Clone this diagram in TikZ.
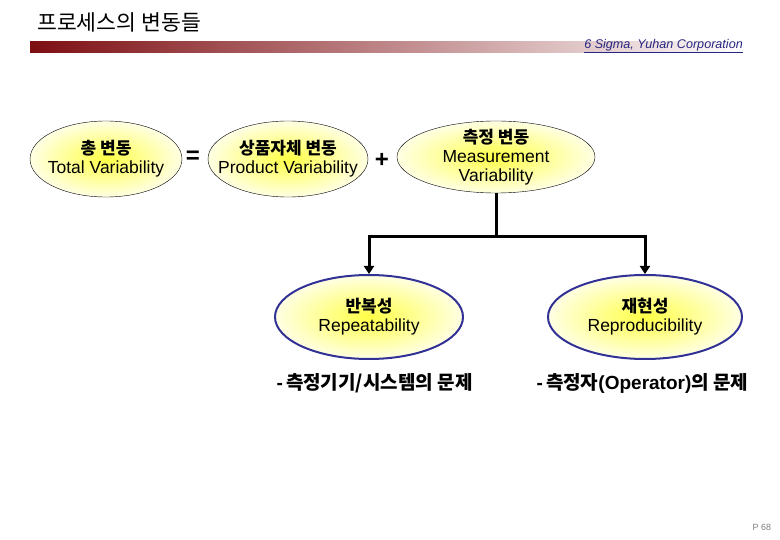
\documentclass[tikz,border=0pt]{standalone}
\usepackage{fontspec}
\setmainfont{Liberation Sans}
\newfontfamily\kr{Noto Sans CJK KR}
\newcommand\hangul{\kr\bfseries\fontsize{17}{19}\selectfont}
\usetikzlibrary{positioning,shapes.geometric,arrows.meta}
\definecolor{barred}{RGB}{125,14,18}
\definecolor{corpblue}{RGB}{38,38,130}
\definecolor{ringblue}{RGB}{50,50,150}
\definecolor{glowyellow}{RGB}{255,255,70}
\definecolor{paleyellow}{RGB}{255,255,228}
\tikzset{
  blob/.style={ellipse, draw=black, thin, inner color=glowyellow, outer color=paleyellow, inner sep=0pt},
  part/.style={blob, draw=ringblue, line width=2pt},
  blobtext/.style={align=center, inner sep=0pt, font=\fontsize{17.5}{19}\selectfont},
  trunk/.style={line width=3pt},
  branch/.style={trunk, {Triangle[width=10pt,length=8pt]}-{Triangle[width=10pt,length=8pt]}},
  op/.style={font=\fontsize{24}{24}\selectfont\bfseries},
  issue/.style={anchor=west, font=\fontsize{19}{20}\selectfont\bfseries}
}
\begin{document}
\begin{tikzpicture}[x=1pt,y=-1pt]
    \useasboundingbox (0,0) rectangle (780,540);

    % header
    \node[anchor=west, inner sep=0pt, font=\kr\fontsize{21.6}{22}\selectfont] (title) at (37,22) {프로세스의 변동들};
    \shade[left color=barred, right color=white] (30,42) rectangle (745,53);
    \node[anchor=east, inner sep=0pt, text=corpblue, font=\fontsize{12.6}{13}\selectfont\itshape] (corp) at (743,46)
      {\underline{6 Sigma, Yuhan Corporation}};

    % top row
    \node[blob, minimum width=152, minimum height=76] (total) at (106,159) {};
    \node[blobtext] (totaltext) at (total) {{\hangul 총 변동}\\Total Variability};
    \node[op] (eq) at (193,157) {=};
    \node[blob, minimum width=160, minimum height=76] (product) at (288,159) {};
    \node[blobtext] (producttext) at (product) {{\hangul 상품자체 변동}\\Product Variability};
    \node[op] (plus) at (382,160) {+};
    \node[blob, minimum width=198, minimum height=72] (meas) at (496,157) {};
    \node[blobtext] (meastext) at (meas) {{\hangul 측정 변동}\\Measurement\\Variability};

    % bottom row
    \node[part, minimum width=188, minimum height=84] (rep) at (369,317) {};
    \node[blobtext] (reptext) at (rep) {{\hangul 반복성}\\Repeatability};
    \node[part, minimum width=194, minimum height=84] (repro) at (645,317) {};
    \node[blobtext] (reprotext) at (repro) {{\hangul 재현성}\\Reproducibility};

    \coordinate (split) at (496,237);
    \draw[trunk] (meas.south) -- (split);
    \draw[branch] (rep.north) |- (split) -| (repro.north);

    \node[issue] (tool) at (273,383) {-\,{\kr 측정기기/시스템의 문제}};
    \node[issue] (oper) at (533,383) {-\,{\kr 측정자}(Operator){\kr 의 문제}};

    \node[text=gray, font=\fontsize{9}{9}\selectfont] (page) at (762,527) {P 68};
  \end{tikzpicture}
\end{document}
